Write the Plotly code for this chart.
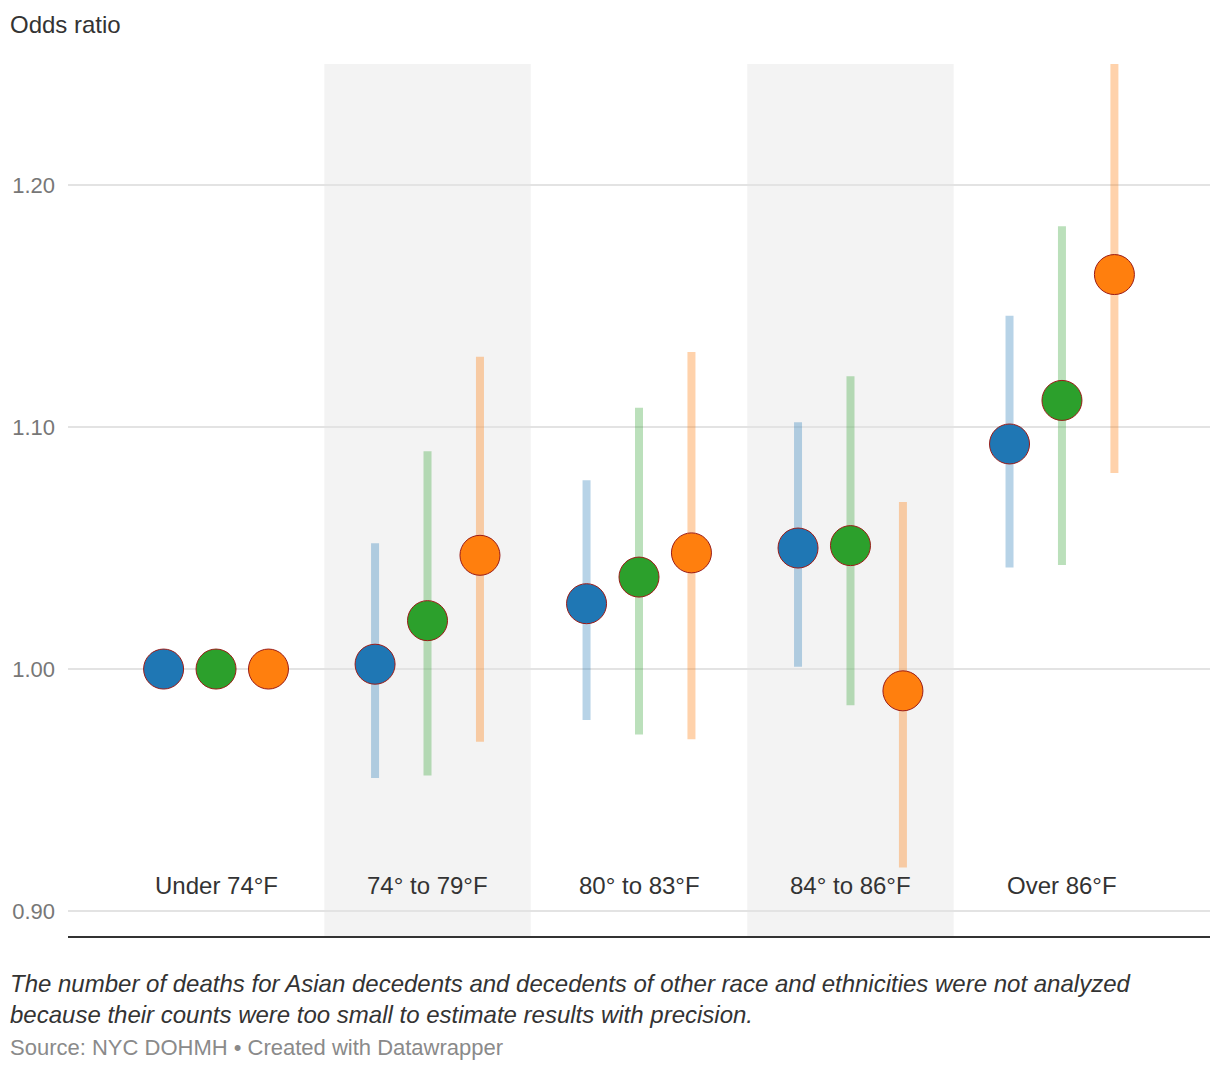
import plotly.graph_objects as go

# ---- data ----
categories = ["Under 74°F", "74° to 79°F", "80° to 83°F", "84° to 86°F", "Over 86°F"]
series_names = ["Series A", "Series B", "Series C"]

blue_or = [1.000, 1.002, 1.027, 1.050, 1.093]
blue_lo = [None, 0.955, 0.979, 1.001, 1.042]
blue_hi = [None, 1.052, 1.078, 1.102, 1.146]

green_or = [1.000, 1.020, 1.038, 1.051, 1.111]
green_lo = [None, 0.956, 0.973, 0.985, 1.043]
green_hi = [None, 1.090, 1.108, 1.121, 1.183]

orange_or = [1.000, 1.047, 1.048, 0.991, 1.163]
orange_lo = [None, 0.970, 0.971, 0.918, 1.081]
orange_hi = [None, 1.129, 1.131, 1.069, 1.265]

y_ticks = [0.90, 1.00, 1.10, 1.20]
y_tick_labels = ["0.90", "1.00", "1.10", "1.20"]

title_text = "Odds ratio"
note_line1 = "The number of deaths for Asian decedents and decedents of other race and ethnicities were not analyzed"
note_line2 = "because their counts were too small to estimate results with precision."
source_text = "Source: NYC DOHMH • Created with Datawrapper"

# ---- styles ----
FONT = "Liberation Sans, Arial, sans-serif"
W, H = 1220, 1070
ML, MR, MT, MB = 68, 10, 64, 134
PW, PH = W - ML - MR, H - MT - MB

series = [
    (blue_or, blue_lo, blue_hi, "#1f77b4", "rgba(31,119,180,0.32)", -0.248),
    (green_or, green_lo, green_hi, "#2ca02c", "rgba(44,160,44,0.32)", 0.0),
    (orange_or, orange_lo, orange_hi, "#ff7f0e", "rgba(255,127,14,0.35)", 0.248),
]

fig = go.Figure()

for i, (vals, lo, hi, col, ecol, off) in enumerate(series):
    xs = [k + off for k in range(len(categories))]
    plus = [(h - v) if h is not None else 0 for v, h in zip(vals, hi)]
    minus = [(v - l) if l is not None else 0 for v, l in zip(vals, lo)]
    fig.add_trace(go.Scatter(
        x=xs, y=vals, mode="markers", name=series_names[i],
        marker=dict(size=40, color=col, line=dict(color="#9a1b17", width=1)),
        error_y=dict(type="data", symmetric=False, array=plus, arrayminus=minus,
                     color=ecol, thickness=8, width=0),
        hoverinfo="skip", showlegend=False, cliponaxis=True,
    ))

# shaded bands for alternating categories
shapes = []
for k in range(len(categories)):
    if k % 2 == 1:
        shapes.append(dict(type="rect", xref="x", yref="paper", x0=k - 0.488, x1=k + 0.488,
                           y0=0, y1=1, fillcolor="#f3f3f3", line=dict(width=0), layer="below"))

def py(px):
    """pixel row -> paper y"""
    return (H - MB - px) / PH

LX = (8 - ML) / PW

annotations = []
for k, c in enumerate(categories):
    annotations.append(dict(x=k, y=py(885), xref="x", yref="paper", text=c, showarrow=False,
                            xanchor="center", yanchor="middle",
                            font=dict(family=FONT, size=24, color="#333333")))

annotations.append(dict(x=LX, y=py(24), xref="paper", yref="paper",
                        text=title_text, showarrow=False, xanchor="left", yanchor="middle",
                        font=dict(family=FONT, size=24, color="#333333")))
annotations.append(dict(x=LX, y=py(999), xref="paper", yref="paper",
                        text="<i>" + note_line1 + "<br>" + note_line2 + "</i>",
                        showarrow=False, xanchor="left", yanchor="middle", align="left",
                        font=dict(family=FONT, size=24, color="#333333")))
annotations.append(dict(x=LX, y=py(1047), xref="paper", yref="paper",
                        text=source_text, showarrow=False, xanchor="left", yanchor="middle",
                        font=dict(family=FONT, size=22, color="#8a8a8a")))

fig.update_layout(
    width=W, height=H,
    margin=dict(l=ML, r=MR, t=MT, b=MB, pad=0),
    paper_bgcolor="white", plot_bgcolor="white",
    shapes=shapes, annotations=annotations,
    xaxis=dict(range=[-0.70, 4.70], showgrid=False, zeroline=False, showticklabels=False,
               showline=True, linecolor="#333333", linewidth=2, fixedrange=True),
    yaxis=dict(range=[0.8897, 1.25], tickvals=y_ticks, ticktext=y_tick_labels,
               showgrid=True, gridcolor="#e3e3e3", gridwidth=1.5, zeroline=False,
               ticks="", ticklabelstandoff=12,
               tickfont=dict(family=FONT, size=22, color="#777777"), fixedrange=True),
    font=dict(family=FONT),
)

fig.write_html("out.html", config={"displayModeBar": False},
               post_script="document.body.style.margin='0';")
